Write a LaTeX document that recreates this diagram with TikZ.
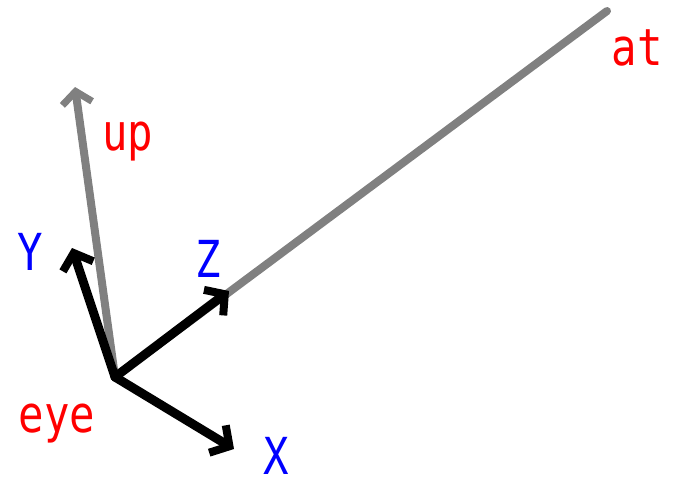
\documentclass[tikz,border=0pt]{standalone}
\usepackage{fontspec}
\newfontfamily\labfont[FakeStretch=0.83]{DejaVu Sans Mono}
\usetikzlibrary{arrows.meta}
\begin{document}
\begin{tikzpicture}[x=1pt,y=-1pt,
  gvec/.style={draw=gray, line width=8pt, line cap=round},
  bvec/.style={draw=black, line width=9pt, line cap=round, -{Straight Barb[length=14pt,width=32pt,line width=8pt]}},
  redlab/.style={text=red, font=\labfont\fontsize{51}{51}\selectfont, anchor=base, inner sep=0pt},
  bluelab/.style={text=blue, font=\labfont\fontsize{51}{51}\selectfont, anchor=base, inner sep=0pt}]
\useasboundingbox (0,0) rectangle (673,480);
\coordinate (eye) at (115,377);
\coordinate (at) at (607,11);
\coordinate (up) at (75,87);
\coordinate (Y) at (72,248);
\coordinate (Z) at (229,291);
\coordinate (X) at (234,449);
\draw[gvec] (eye) -- (at);
\draw[gvec, -{Straight Barb[length=12pt,width=30pt,line width=7pt]}] (eye) -- (up);
\draw[bvec] (eye) -- (Y);
\draw[bvec] (eye) -- (Z);
\draw[bvec] (eye) -- (X);
\node[redlab] (lat) at (637,65) {at};
\node[redlab] (lup) at (128,150) {up};
\node[redlab] (leye) at (57,432) {eye};
\node[bluelab] (lY) at (30,270) {Y};
\node[bluelab] (lZ) at (208,277) {Z};
\node[bluelab] (lX) at (276,474) {X};
\end{tikzpicture}
\end{document}
